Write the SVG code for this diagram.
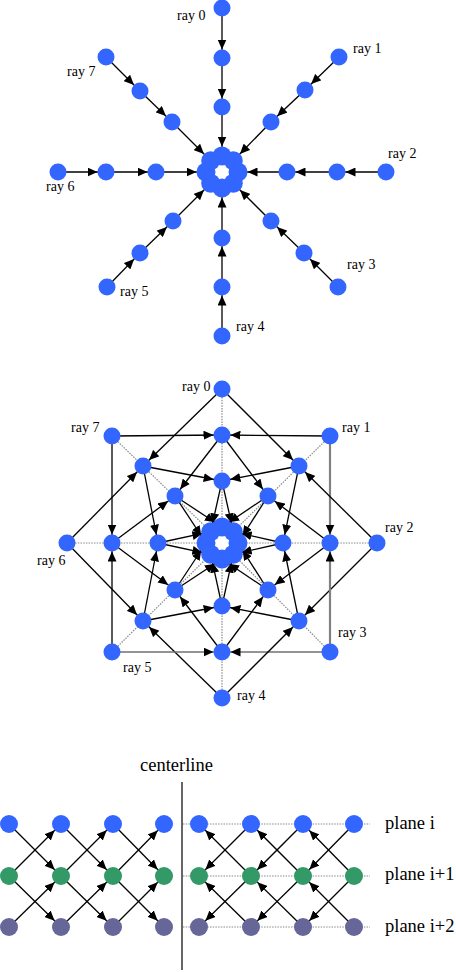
<svg xmlns="http://www.w3.org/2000/svg" width="456" height="972" viewBox="0 0 456 972">
<style>
.e{stroke:#000;stroke-width:1.3;fill:none;marker-end:url(#a)}
.eb{stroke:#000;stroke-width:1.3;fill:none;marker-end:url(#b)}
.g{stroke:#808080;stroke-width:2.2}
.g2{stroke:#707070;stroke-width:1.7}
.d{stroke:#8a8a8a;stroke-width:1.2;stroke-dasharray:1.5 1.2;fill:none}
.n{fill:#3366ff}
.gr{fill:#339966}
.pu{fill:#666699}
text{font-family:"Liberation Serif","Times New Roman",serif;font-size:14px;fill:#000}
.big{font-size:18.5px}
</style>
<defs>
<marker id="a" markerUnits="userSpaceOnUse" markerWidth="10" markerHeight="9" refX="18.5" refY="4.5" orient="auto"><path d="M0,0 L10,4.5 L0,9 z" fill="#000"/></marker>
<marker id="b" markerUnits="userSpaceOnUse" markerWidth="10" markerHeight="9" refX="19" refY="4.5" orient="auto"><path d="M0,0 L10,4.5 L0,9 z" fill="#000"/></marker>
</defs>
<rect width="456" height="972" fill="#fff"/>

<!-- ===== TOP DIAGRAM ===== -->
<g id="top-connectors">
<line class="e" x1="222" y1="8" x2="222" y2="58"/>
<line class="e" x1="222" y1="58" x2="222" y2="107"/>
<line class="e" x1="222" y1="107" x2="222" y2="155"/>
<line class="e" x1="339" y1="57" x2="305" y2="90"/>
<line class="e" x1="305" y1="90" x2="271" y2="122"/>
<line class="e" x1="271" y1="122" x2="234" y2="160"/>
<line class="e" x1="386" y1="172" x2="337" y2="172"/>
<line class="e" x1="337" y1="172" x2="287" y2="172"/>
<line class="e" x1="287" y1="172" x2="239" y2="172"/>
<line class="e" x1="338" y1="287" x2="304" y2="253"/>
<line class="e" x1="304" y1="253" x2="271" y2="221"/>
<line class="e" x1="271" y1="221" x2="234" y2="184"/>
<line class="e" x1="222" y1="336" x2="222" y2="287"/>
<line class="e" x1="222" y1="287" x2="222" y2="238"/>
<line class="e" x1="222" y1="238" x2="222" y2="189"/>
<line class="e" x1="107" y1="287" x2="140" y2="253"/>
<line class="e" x1="140" y1="253" x2="173" y2="221"/>
<line class="e" x1="173" y1="221" x2="210" y2="184"/>
<line class="e" x1="58" y1="172" x2="106" y2="172"/>
<line class="e" x1="106" y1="172" x2="156" y2="172"/>
<line class="e" x1="156" y1="172" x2="205" y2="172"/>
<line class="e" x1="106" y1="57" x2="140" y2="91"/>
<line class="e" x1="140" y1="91" x2="172" y2="122"/>
<line class="e" x1="172" y1="122" x2="210" y2="160"/>
</g>
<g id="top-ray0" class="n"><circle cx="222" cy="8" r="8.5"/><circle cx="222" cy="58" r="8.5"/><circle cx="222" cy="107" r="8.5"/></g>
<g id="top-ray1" class="n"><circle cx="339" cy="57" r="8.5"/><circle cx="305" cy="90" r="8.5"/><circle cx="271" cy="122" r="8.5"/></g>
<g id="top-ray2" class="n"><circle cx="386" cy="172" r="8.5"/><circle cx="337" cy="172" r="8.5"/><circle cx="287" cy="172" r="8.5"/></g>
<g id="top-ray3" class="n"><circle cx="338" cy="287" r="8.5"/><circle cx="304" cy="253" r="8.5"/><circle cx="271" cy="221" r="8.5"/></g>
<g id="top-ray4" class="n"><circle cx="222" cy="336" r="8.5"/><circle cx="222" cy="287" r="8.5"/><circle cx="222" cy="238" r="8.5"/></g>
<g id="top-ray5" class="n"><circle cx="107" cy="287" r="8.5"/><circle cx="140" cy="253" r="8.5"/><circle cx="173" cy="221" r="8.5"/></g>
<g id="top-ray6" class="n"><circle cx="58" cy="172" r="8.5"/><circle cx="106" cy="172" r="8.5"/><circle cx="156" cy="172" r="8.5"/></g>
<g id="top-ray7" class="n"><circle cx="106" cy="57" r="8.5"/><circle cx="140" cy="91" r="8.5"/><circle cx="172" cy="122" r="8.5"/></g>
<g id="top-center" class="n">
<circle cx="222" cy="156" r="9.5"/><circle cx="233.3" cy="160.7" r="9.5"/><circle cx="238" cy="172" r="9.5"/><circle cx="233.3" cy="183.3" r="9.5"/>
<circle cx="222" cy="188" r="9.5"/><circle cx="210.7" cy="183.3" r="9.5"/><circle cx="206" cy="172" r="9.5"/><circle cx="210.7" cy="160.7" r="9.5"/>
</g>
<g id="top-labels">
<text x="177" y="20">ray 0</text>
<text x="353" y="53">ray 1</text>
<text x="388" y="158">ray 2</text>
<text x="347" y="269">ray 3</text>
<text x="236" y="331">ray 4</text>
<text x="120" y="296">ray 5</text>
<text x="46" y="191">ray 6</text>
<text x="67" y="76">ray 7</text>
</g>

<!-- ===== MIDDLE DIAGRAM ===== -->
<g id="mid-connectors">
<g id="mid-dotted">
<line class="d" x1="222" y1="389" x2="222" y2="527"/>
<line class="d" x1="330" y1="436" x2="233.3" y2="531.7"/>
<line class="d" x1="377" y1="543" x2="238" y2="543"/>
<line class="d" x1="330" y1="652" x2="233.3" y2="554.3"/>
<line class="d" x1="222" y1="698" x2="222" y2="559"/>
<line class="d" x1="112" y1="652" x2="210.7" y2="554.3"/>
<line class="d" x1="67" y1="543" x2="206" y2="543"/>
<line class="d" x1="112" y1="436" x2="210.7" y2="531.7"/>
</g>
<!-- outer to middle -->
<line class="e" x1="222" y1="389" x2="143" y2="466"/>
<line class="e" x1="222" y1="389" x2="299" y2="466"/>
<line class="e" x1="330" y1="436" x2="222" y2="435"/>
<line class="e g" x1="330" y1="436" x2="330" y2="543"/>
<line class="e" x1="377" y1="543" x2="299" y2="466"/>
<line class="e" x1="377" y1="543" x2="299" y2="621"/>
<line class="e g" x1="330" y1="652" x2="330" y2="543"/>
<line class="e g2" x1="330" y1="652" x2="222" y2="652"/>
<line class="e" x1="222" y1="698" x2="299" y2="621"/>
<line class="e" x1="222" y1="698" x2="143" y2="621"/>
<line class="e g2" x1="112" y1="652" x2="222" y2="652"/>
<line class="e" x1="112" y1="652" x2="112" y2="543"/>
<line class="e" x1="67" y1="543" x2="143" y2="621"/>
<line class="e" x1="67" y1="543" x2="143" y2="466"/>
<line class="e" x1="112" y1="436" x2="112" y2="543"/>
<line class="e" x1="112" y1="436" x2="222" y2="435"/>
<!-- middle to inner -->
<line class="e" x1="222" y1="435" x2="175" y2="496"/>
<line class="e" x1="222" y1="435" x2="268" y2="496"/>
<line class="e" x1="299" y1="466" x2="222" y2="481"/>
<line class="e" x1="299" y1="466" x2="283" y2="543"/>
<line class="e" x1="330" y1="543" x2="268" y2="496"/>
<line class="e" x1="330" y1="543" x2="268" y2="590"/>
<line class="e" x1="299" y1="621" x2="283" y2="543"/>
<line class="e" x1="299" y1="621" x2="222" y2="606"/>
<line class="e" x1="222" y1="652" x2="268" y2="590"/>
<line class="e" x1="222" y1="652" x2="175" y2="590"/>
<line class="e" x1="143" y1="621" x2="222" y2="606"/>
<line class="e" x1="143" y1="621" x2="158" y2="543"/>
<line class="e" x1="112" y1="543" x2="175" y2="590"/>
<line class="e" x1="112" y1="543" x2="175" y2="496"/>
<line class="e" x1="143" y1="466" x2="158" y2="543"/>
<line class="e" x1="143" y1="466" x2="222" y2="481"/>
<!-- inner to center -->
<line class="e" x1="222" y1="481" x2="210.7" y2="531.7"/>
<line class="e" x1="222" y1="481" x2="233.3" y2="531.7"/>
<line class="e" x1="268" y1="496" x2="222" y2="527"/>
<line class="e" x1="268" y1="496" x2="238" y2="543"/>
<line class="e" x1="283" y1="543" x2="233.3" y2="531.7"/>
<line class="e" x1="283" y1="543" x2="233.3" y2="554.3"/>
<line class="e" x1="268" y1="590" x2="238" y2="543"/>
<line class="e" x1="268" y1="590" x2="222" y2="559"/>
<line class="e" x1="222" y1="606" x2="233.3" y2="554.3"/>
<line class="e" x1="222" y1="606" x2="210.7" y2="554.3"/>
<line class="e" x1="175" y1="590" x2="222" y2="559"/>
<line class="e" x1="175" y1="590" x2="206" y2="543"/>
<line class="e" x1="158" y1="543" x2="210.7" y2="554.3"/>
<line class="e" x1="158" y1="543" x2="210.7" y2="531.7"/>
<line class="e" x1="175" y1="496" x2="206" y2="543"/>
<line class="e" x1="175" y1="496" x2="222" y2="527"/>
</g>
<g id="mid-ray0" class="n"><circle cx="222" cy="389" r="8.5"/><circle cx="222" cy="435" r="8.5"/><circle cx="222" cy="481" r="8.5"/></g>
<g id="mid-ray1" class="n"><circle cx="330" cy="436" r="8.5"/><circle cx="299" cy="466" r="8.5"/><circle cx="268" cy="496" r="8.5"/></g>
<g id="mid-ray2" class="n"><circle cx="377" cy="543" r="8.5"/><circle cx="330" cy="543" r="8.5"/><circle cx="283" cy="543" r="8.5"/></g>
<g id="mid-ray3" class="n"><circle cx="330" cy="652" r="8.5"/><circle cx="299" cy="621" r="8.5"/><circle cx="268" cy="590" r="8.5"/></g>
<g id="mid-ray4" class="n"><circle cx="222" cy="698" r="8.5"/><circle cx="222" cy="652" r="8.5"/><circle cx="222" cy="606" r="8.5"/></g>
<g id="mid-ray5" class="n"><circle cx="112" cy="652" r="8.5"/><circle cx="143" cy="621" r="8.5"/><circle cx="175" cy="590" r="8.5"/></g>
<g id="mid-ray6" class="n"><circle cx="67" cy="543" r="8.5"/><circle cx="112" cy="543" r="8.5"/><circle cx="158" cy="543" r="8.5"/></g>
<g id="mid-ray7" class="n"><circle cx="112" cy="436" r="8.5"/><circle cx="143" cy="466" r="8.5"/><circle cx="175" cy="496" r="8.5"/></g>
<g id="mid-center" class="n">
<circle cx="222" cy="527" r="9.5"/><circle cx="233.3" cy="531.7" r="9.5"/><circle cx="238" cy="543" r="9.5"/><circle cx="233.3" cy="554.3" r="9.5"/>
<circle cx="222" cy="559" r="9.5"/><circle cx="210.7" cy="554.3" r="9.5"/><circle cx="206" cy="543" r="9.5"/><circle cx="210.7" cy="531.7" r="9.5"/>
</g>
<g id="mid-labels">
<text x="182" y="391">ray 0</text>
<text x="342" y="432">ray 1</text>
<text x="385" y="532">ray 2</text>
<text x="338" y="637">ray 3</text>
<text x="237" y="700">ray 4</text>
<text x="123" y="672">ray 5</text>
<text x="37" y="565">ray 6</text>
<text x="71" y="432">ray 7</text>
</g>

<!-- ===== BOTTOM DIAGRAM ===== -->
<g id="bottom-connectors">
<line x1="182" y1="782" x2="182" y2="970" stroke="#666" stroke-width="2"/>
<line class="d" x1="183" y1="824" x2="370" y2="824"/>
<line class="d" x1="183" y1="876" x2="370" y2="876"/>
<line class="d" x1="183" y1="927" x2="370" y2="927"/>
<line class="eb" x1="9" y1="824" x2="61" y2="876"/>
<line class="eb" x1="9" y1="876" x2="61" y2="824"/>
<line class="eb" x1="9" y1="876" x2="61" y2="927"/>
<line class="eb" x1="9" y1="927" x2="61" y2="876"/>
<line class="eb" x1="61" y1="824" x2="113" y2="876"/>
<line class="eb" x1="61" y1="876" x2="113" y2="824"/>
<line class="eb" x1="61" y1="876" x2="113" y2="927"/>
<line class="eb" x1="61" y1="927" x2="113" y2="876"/>
<line class="eb" x1="113" y1="824" x2="164" y2="876"/>
<line class="eb" x1="113" y1="876" x2="164" y2="824"/>
<line class="eb" x1="113" y1="876" x2="164" y2="927"/>
<line class="eb" x1="113" y1="927" x2="164" y2="876"/>
<line class="eb" x1="251" y1="824" x2="199" y2="876"/>
<line class="eb" x1="251" y1="876" x2="199" y2="824"/>
<line class="eb" x1="251" y1="876" x2="199" y2="927"/>
<line class="eb" x1="251" y1="927" x2="199" y2="876"/>
<line class="eb" x1="303" y1="824" x2="251" y2="876"/>
<line class="eb" x1="303" y1="876" x2="251" y2="824"/>
<line class="eb" x1="303" y1="876" x2="251" y2="927"/>
<line class="eb" x1="303" y1="927" x2="251" y2="876"/>
<line class="eb" x1="354" y1="824" x2="303" y2="876"/>
<line class="eb" x1="354" y1="876" x2="303" y2="824"/>
<line class="eb" x1="354" y1="876" x2="303" y2="927"/>
<line class="eb" x1="354" y1="927" x2="303" y2="876"/>
</g>
<g id="plane-i" class="n">
<circle cx="9" cy="824" r="9"/><circle cx="61" cy="824" r="9"/><circle cx="113" cy="824" r="9"/><circle cx="164" cy="824" r="9"/>
<circle cx="199" cy="824" r="9"/><circle cx="251" cy="824" r="9"/><circle cx="303" cy="824" r="9"/><circle cx="354" cy="824" r="9"/>
</g>
<g id="plane-i1" class="gr">
<circle cx="9" cy="876" r="9"/><circle cx="61" cy="876" r="9"/><circle cx="113" cy="876" r="9"/><circle cx="164" cy="876" r="9"/>
<circle cx="199" cy="876" r="9"/><circle cx="251" cy="876" r="9"/><circle cx="303" cy="876" r="9"/><circle cx="354" cy="876" r="9"/>
</g>
<g id="plane-i2" class="pu">
<circle cx="9" cy="927" r="9"/><circle cx="61" cy="927" r="9"/><circle cx="113" cy="927" r="9"/><circle cx="164" cy="927" r="9"/>
<circle cx="199" cy="927" r="9"/><circle cx="251" cy="927" r="9"/><circle cx="303" cy="927" r="9"/><circle cx="354" cy="927" r="9"/>
</g>
<g id="bottom-labels">
<text class="big" x="140" y="771">centerline</text>
<text class="big" x="385" y="829">plane i</text>
<text class="big" x="385" y="880">plane i+1</text>
<text class="big" x="385" y="932">plane i+2</text>
</g>
</svg>
